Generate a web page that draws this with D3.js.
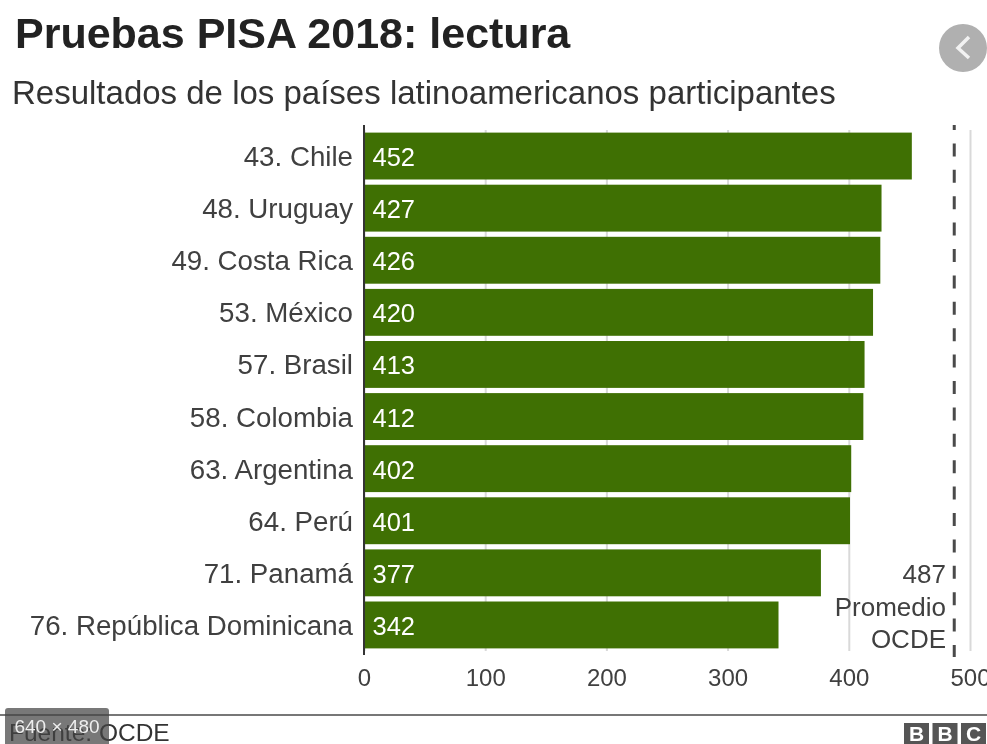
<!DOCTYPE html>
<html lang="es">
<head>
<meta charset="utf-8">
<title>Pruebas PISA 2018: lectura</title>
<script src="https://cdn.jsdelivr.net/npm/d3@7/dist/d3.min.js"></script>
<style>
  html, body { margin: 0; padding: 0; background: #fff; }
  svg { display: block; font-family: "Liberation Sans", Arial, sans-serif; }
  svg > g, svg > text, svg > line, svg > path, svg > circle, svg > rect { filter: blur(0.5px); }
</style>
</head>
<body>
<svg id="chart"></svg>
<script>
const COUNTRIES = ['43. Chile', '48. Uruguay', '49. Costa Rica', '53. México', '57. Brasil',
  '58. Colombia', '63. Argentina', '64. Perú', '71. Panamá', '76. República Dominicana'];
const SCORES = [452, 427, 426, 420, 413, 412, 402, 401, 377, 342];
const TICKS = [0, 100, 200, 300, 400, 500];
const OECD_AVG = 487;
const OECD_LABEL = ['487', 'Promedio', 'OCDE'];
const BBC_LETTERS = ['B', 'B', 'C'];

const W = 987, H = 744;
const M = { top: 130, right: 17, bottom: 93, left: 364 };
const BAR_GREEN = '#3f7003';
const TEXT_DARK = '#404040';

const svg = d3.select('#chart').attr('width', W).attr('height', H).attr('viewBox', `0 0 ${W} ${H}`);

const x = d3.scaleLinear().domain([0, 500]).range([M.left, 970]);
const y = d3.scaleBand().domain(COUNTRIES).range([M.top, H - M.bottom]).paddingInner(0.1).paddingOuter(0.05);

// Title block
svg.append('text').attr('x', 15).attr('y', 48)
  .attr('font-size', 43).attr('font-weight', 700).attr('fill', '#222')
  .text('Pruebas PISA 2018: lectura');
svg.append('text').attr('x', 12).attr('y', 104)
  .attr('font-size', 33).attr('fill', '#333')
  .text('Resultados de los países latinoamericanos participantes');

// Gridlines + axis
const axis = svg.append('g')
  .attr('transform', `translate(0,${H - M.bottom})`)
  .call(d3.axisBottom(x).tickValues(TICKS).tickSize(-(H - M.top - M.bottom)).tickPadding(18));
axis.select('.domain').remove();
axis.selectAll('line').attr('stroke', '#d9d9d9').attr('stroke-width', 2);
axis.selectAll('text').attr('font-size', 24).attr('font-family', 'inherit').attr('fill', TEXT_DARK);

// Bars
svg.selectAll('.bar')
  .data(COUNTRIES)
  .join('rect')
  .attr('class', 'bar')
  .attr('x', x(0))
  .attr('y', d => y(d))
  .attr('width', (d, i) => x(SCORES[i]) - x(0))
  .attr('height', y.bandwidth())
  .attr('fill', BAR_GREEN);

// Value labels inside the bars
svg.selectAll('.val')
  .data(COUNTRIES)
  .join('text')
  .attr('class', 'val')
  .attr('x', x(0) + 8.5)
  .attr('y', d => y(d) + y.bandwidth() / 2 + 10)
  .attr('font-size', 25.5)
  .attr('fill', '#fff')
  .text((d, i) => SCORES[i]);

// Country labels
svg.selectAll('.cat')
  .data(COUNTRIES)
  .join('text')
  .attr('class', 'cat')
  .attr('x', x(0) - 11)
  .attr('y', d => y(d) + y.bandwidth() / 2 + 10)
  .attr('text-anchor', 'end')
  .attr('font-size', 27.7)
  .attr('fill', TEXT_DARK)
  .text(d => d);

// Zero line
svg.append('line')
  .attr('x1', x(0)).attr('x2', x(0))
  .attr('y1', 125).attr('y2', H - M.bottom + 4)
  .attr('stroke', '#333').attr('stroke-width', 2);

// OCDE average
svg.append('line')
  .attr('x1', x(OECD_AVG)).attr('x2', x(OECD_AVG))
  .attr('y1', 125).attr('y2', H - M.bottom + 6)
  .attr('stroke', '#4a4a4a').attr('stroke-width', 3)
  .attr('stroke-dasharray', '13 13.4')
  .attr('stroke-dashoffset', 8);
svg.selectAll('.avg')
  .data(OECD_LABEL)
  .join('text')
  .attr('class', 'avg')
  .attr('x', 946)
  .attr('y', (d, i) => 583 + i * 32.5)
  .attr('text-anchor', 'end')
  .attr('font-size', 26)
  .attr('fill', TEXT_DARK)
  .text(d => d);

// Footer
svg.append('line').attr('x1', 0).attr('x2', W).attr('y1', 715).attr('y2', 715)
  .attr('stroke', '#777').attr('stroke-width', 2);
svg.append('text').attr('x', 9).attr('y', 741)
  .attr('font-size', 24.5).attr('fill', '#333')
  .text('Fuente: OCDE');

const bbc = svg.append('g');
bbc.selectAll('rect')
  .data(BBC_LETTERS)
  .join('rect')
  .attr('x', (d, i) => 904 + i * 28.5)
  .attr('y', 723)
  .attr('width', 25)
  .attr('height', 21)
  .attr('fill', '#555');
bbc.selectAll('text')
  .data(BBC_LETTERS)
  .join('text')
  .attr('x', (d, i) => 916.5 + i * 28.5)
  .attr('y', 741)
  .attr('text-anchor', 'middle')
  .attr('font-size', 21)
  .attr('font-weight', 700)
  .attr('fill', '#fff')
  .text(d => d);

// Thumbnail overlay left over in the screenshot
svg.append('path')
  .attr('d', 'M5,744V711a3,3 0 0 1 3,-3H106a3,3 0 0 1 3,3V744Z')
  .attr('fill', '#444').attr('fill-opacity', 0.72);
svg.append('text').attr('x', 57).attr('y', 733)
  .attr('text-anchor', 'middle')
  .attr('font-size', 19).attr('fill', '#eee')
  .text('640 × 480');

// Carousel button
svg.append('circle').attr('cx', 963).attr('cy', 48).attr('r', 24).attr('fill', '#b0b0b0');
svg.append('path').attr('d', 'M969,37L958,48L969,58')
  .attr('fill', 'none').attr('stroke', '#f2f2f2').attr('stroke-width', 3.5);
</script>
</body>
</html>
